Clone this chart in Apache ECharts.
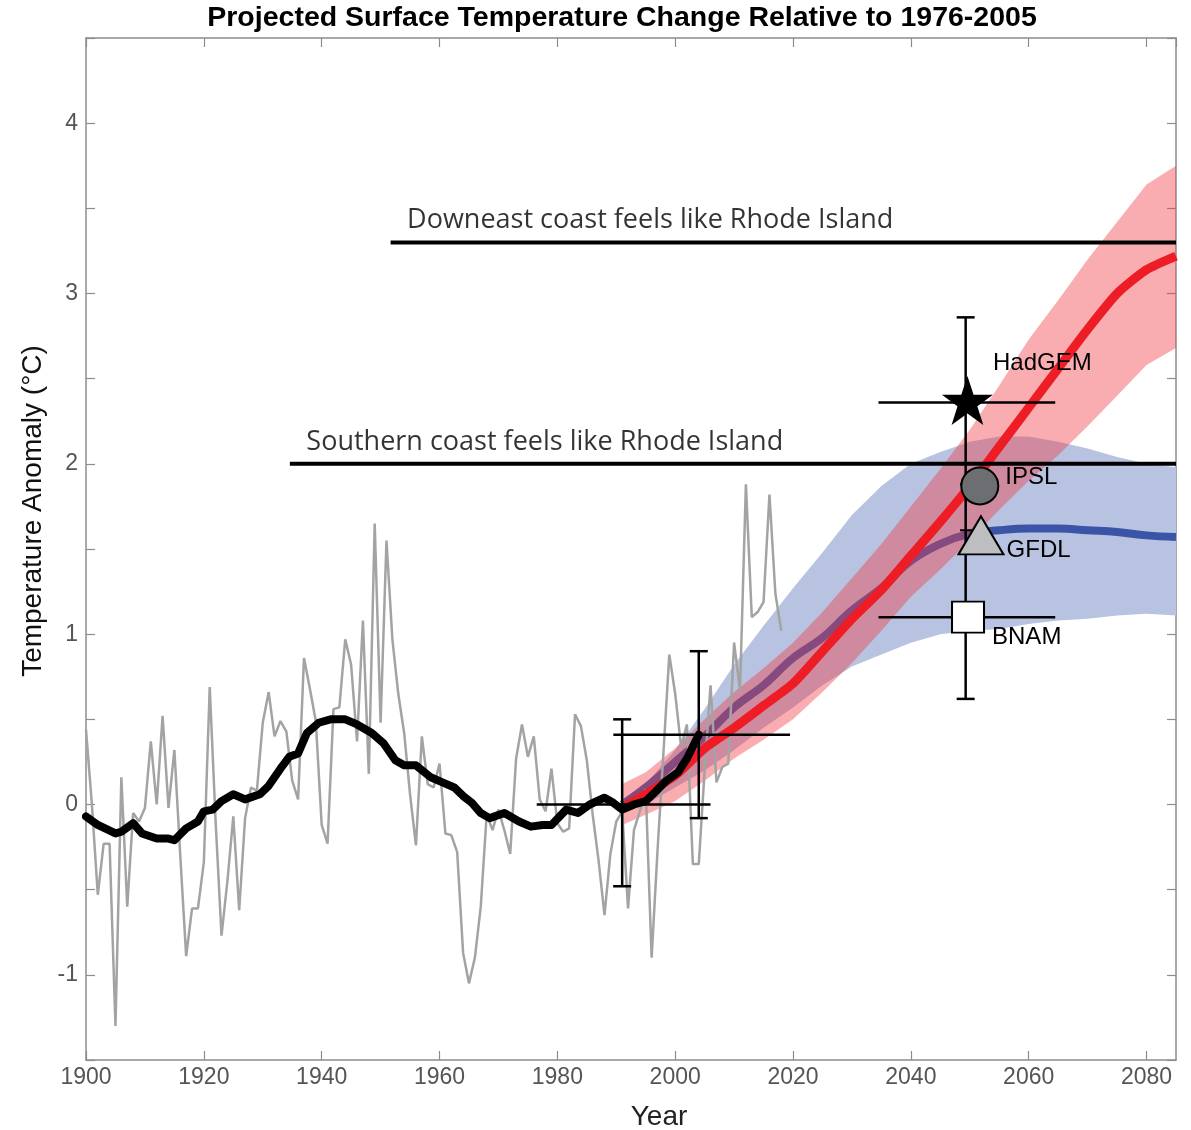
<!DOCTYPE html>
<html>
<head>
<meta charset="utf-8">
<title>Projected Surface Temperature Change Relative to 1976-2005</title>
<script src="https://cdn.jsdelivr.net/npm/echarts@6/dist/echarts.min.js"></script>
<style>
  html, body { margin: 0; padding: 0; background: #fff; }
  #chart { width: 1191px; height: 1130px; }
</style>
</head>
<body>
<div id="chart"></div>
<script>
// observed annual anomaly (gray), one value per year from 1900
const obsStart = 1900
const obsValues = [
  0.44, 0.0, -0.53, -0.23, -0.23, -1.30, 0.16, -0.60, -0.05, -0.10,
  -0.02, 0.37, 0.0, 0.52, -0.02, 0.32, -0.30, -0.89, -0.61, -0.61,
  -0.34, 0.69, -0.10, -0.77, -0.45, -0.07, -0.62, -0.08, 0.10, 0.08,
  0.48, 0.66, 0.40, 0.49, 0.43, 0.14, 0.03, 0.86, 0.68, 0.49,
  -0.12, -0.23, 0.56, 0.57, 0.97, 0.82, 0.37, 1.08, 0.18, 1.65,
  0.48, 1.55, 0.97, 0.65, 0.42, 0.06, -0.24, 0.40, 0.12, 0.10,
  0.24, -0.17, -0.18, -0.28, -0.87, -1.05, -0.90, -0.60, -0.06, -0.15,
  -0.03, -0.15, -0.29, 0.27, 0.47, 0.28, 0.40, 0.03, -0.04, 0.21,
  -0.11, -0.16, -0.14, 0.53, 0.46, 0.26, -0.06, -0.33, -0.65, -0.29,
  -0.10, -0.04, -0.61, -0.15, -0.04, 0.09, -0.90, -0.27, 0.30, 0.88,
  0.65, 0.34, 0.47, -0.35, -0.35, 0.20, 0.70, 0.13, 0.22, 0.24,
  0.95, 0.67, 1.88, 1.10, 1.13, 1.19, 1.82, 1.24, 1.02
]

// smoothed observations (black)
const smoothYears = [1900, 1902, 1905, 1906, 1908, 1909.5, 1912, 1914, 1915, 1917, 1919, 1920, 1921.5, 1923, 1925,
  1927, 1929.5, 1931, 1933, 1934.5, 1936, 1937.5, 1939.5, 1941.5, 1944, 1946, 1948.5, 1950.5, 1952.5, 1954,
  1956, 1958.5, 1960.5, 1962.5, 1964, 1965.5, 1967, 1968.5, 1971, 1973.5, 1975.5, 1977.5, 1979, 1981.5, 1983.5,
  1985.5, 1988, 1989.5, 1991, 1993, 1995, 1996.5, 1998.5, 2000.5, 2002, 2004]
const smoothValues = [-0.07, -0.12, -0.17, -0.16, -0.11, -0.17, -0.20, -0.20, -0.21, -0.14, -0.10, -0.04, -0.03, 0.02, 0.06,
  0.03, 0.06, 0.11, 0.21, 0.28, 0.30, 0.42, 0.48, 0.50, 0.50, 0.47, 0.42, 0.36, 0.26, 0.23,
  0.23, 0.16, 0.13, 0.10, 0.05, 0.01, -0.05, -0.08, -0.05, -0.10, -0.13, -0.12, -0.12, -0.03, -0.05,
  0.00, 0.04, 0.01, -0.03, 0.00, 0.02, 0.07, 0.14, 0.19, 0.27, 0.41]

// projections
const projYears = [1991, 1995, 2000, 2005, 2010, 2015, 2020, 2025, 2030, 2035, 2040, 2045, 2050, 2055, 2060, 2065, 2070, 2075, 2080, 2085]
const redMean = [-0.02, 0.06, 0.17, 0.33, 0.45, 0.58, 0.71, 0.90, 1.09, 1.26, 1.46, 1.66, 1.87, 2.10, 2.33, 2.56, 2.79, 3.00, 3.14, 3.22]
const redLow  = [-0.12, -0.06, 0.02, 0.14, 0.27, 0.38, 0.50, 0.66, 0.83, 1.02, 1.22, 1.38, 1.55, 1.73, 1.90, 2.05, 2.22, 2.40, 2.58, 2.68]
const redHigh = [0.12, 0.19, 0.33, 0.50, 0.66, 0.80, 0.95, 1.13, 1.33, 1.53, 1.75, 1.97, 2.20, 2.46, 2.73, 2.96, 3.20, 3.42, 3.64, 3.75]
const blueMean = [0.0, 0.10, 0.25, 0.40, 0.57, 0.70, 0.86, 0.98, 1.14, 1.27, 1.43, 1.53, 1.59, 1.61, 1.62, 1.62, 1.61, 1.60, 1.58, 1.57]
const blueLow  = [-0.05, 0.0, 0.10, 0.20, 0.32, 0.45, 0.57, 0.70, 0.81, 0.88, 0.95, 1.00, 1.02, 1.03, 1.06, 1.08, 1.09, 1.11, 1.12, 1.11]
const blueHigh = [0.02, 0.12, 0.32, 0.56, 0.82, 1.05, 1.27, 1.48, 1.70, 1.87, 2.00, 2.07, 2.13, 2.16, 2.16, 2.13, 2.09, 2.04, 2.00, 1.98]

// "feels like Rhode Island" thresholds
const refLabels = ['Downeast coast feels like Rhode Island', 'Southern coast feels like Rhode Island']
const refLevels = [3.3, 2.0]
const refStarts = [1951.7, 1934.6]

// error bars
const vBarX = [1991, 2004, 2049.3]
const vBarLow = [-0.48, -0.08, 0.62]
const vBarHigh = [0.50, 0.90, 2.86]
const hBarY = [0.0, 0.41, 2.36, 1.10]
const hBarLow = [1976.5, 1989.5, 2034.5, 2034.5]
const hBarHigh = [2006, 2019.5, 2064.5, 2064.5]
const smallCapY = [1.88, 1.61]
const smallCapX = 2049.7

// model markers
const modelNames = ['HadGEM', 'IPSL', 'GFDL', 'BNAM']
const modelYears = [2049.6, 2051.7, 2051.9, 2049.7]
const modelValues = [2.37, 1.87, 1.58, 1.10]

const X_MIN = 1900
const X_MAX = 2085
const axisGray = '#8c8c8c'

const pairs = (xs, ys) => xs.map((x, i) => [x, ys[i]])
const obsData = obsValues.map((v, i) => [obsStart + i, v])

const starPath = 'path://M50,0 L61.8,35.4 L99,35.4 L68.9,57.3 L80.4,92.7 L50,70.8 L19.6,92.7 L31.1,57.3 L1,35.4 L38.2,35.4 Z'

const modelStyles = [
  { symbol: starPath, symbolSize: [45, 43], color: '#000', dist: 2, off: [0, -37] },
  { symbol: 'circle', symbolSize: 37, color: '#6d6e71', dist: 6, off: [0, -9] },
  { symbol: 'triangle', symbolSize: [45, 38], color: '#bcbec0', dist: 2, off: [0, 15] },
  { symbol: 'rect', symbolSize: [32, 31], color: '#fff', dist: 7, off: [0, 20] }
]

const bandSeries = (name, low, high, fill, z) => ({
  type: 'custom',
  name: name,
  z: z,
  silent: true,
  clip: true,
  data: [[projYears[0], low[0]]],
  renderItem: (params, api) => {
    const pts = projYears.map((yr, i) => api.coord([yr, high[i]]))
    for (let i = projYears.length - 1; i >= 0; i--) {
      pts.push(api.coord([projYears[i], low[i]]))
    }
    return { type: 'polygon', shape: { points: pts }, style: { fill: fill } }
  }
})

const chart = echarts.init(document.getElementById('chart'))

const valueAxisBase = {
  type: 'value',
  axisLine: { show: true, onZero: false, lineStyle: { color: axisGray, width: 1.5 } },
  axisTick: { show: true, inside: true, length: 9, lineStyle: { color: axisGray, width: 1.2 } },
  splitLine: { show: false }
}

chart.setOption({
  animation: false,
  backgroundColor: '#fff',
  grid: { left: 86, right: 15, top: 38, bottom: 70, containLabel: false, outerBoundsMode: 'none' },
  graphic: [
    {
      type: 'text',
      x: 622,
      y: 18,
      style: {
        text: 'Projected Surface Temperature Change Relative to 1976-2005',
        font: 'bold 28.5px "Liberation Sans", Arial, sans-serif',
        fill: '#000',
        textAlign: 'center',
        textVerticalAlign: 'middle'
      }
    },
    {
      type: 'text',
      x: 33,
      y: 511,
      rotation: Math.PI / 2,
      style: {
        text: 'Temperature Anomaly (°C)',
        font: '28px "Liberation Sans", Arial, sans-serif',
        fill: '#111',
        textAlign: 'center',
        textVerticalAlign: 'middle'
      }
    },
    {
      type: 'text',
      x: 659,
      y: 1117,
      style: {
        text: 'Year',
        font: '28px "Liberation Sans", Arial, sans-serif',
        fill: '#222',
        textAlign: 'center',
        textVerticalAlign: 'middle'
      }
    }
  ],
  xAxis: [
    Object.assign({}, valueAxisBase, {
      position: 'bottom',
      min: X_MIN,
      max: X_MAX,
      interval: 20,
      axisLabel: {
        color: '#555',
        fontSize: 23,
        fontFamily: 'Liberation Sans',
        margin: 6,
        showMaxLabel: false,
        formatter: v => (v % 20 === 0 ? String(v) : '')
      }
    }),
    Object.assign({}, valueAxisBase, {
      position: 'top',
      min: X_MIN,
      max: X_MAX,
      interval: 20,
      axisLabel: { show: false }
    })
  ],
  yAxis: [
    Object.assign({}, valueAxisBase, {
      position: 'left',
      min: -1.5,
      max: 4.5,
      interval: 0.5,
      axisLabel: {
        color: '#555',
        fontSize: 23,
        fontFamily: 'Liberation Sans',
        margin: 8,
        formatter: v => (Math.abs(v - Math.round(v)) < 1e-6 ? String(Math.round(v)) : '')
      }
    }),
    Object.assign({}, valueAxisBase, {
      position: 'right',
      min: -1.5,
      max: 4.5,
      interval: 0.5,
      axisLabel: { show: false }
    })
  ],
  series: [
    bandSeries('blue range', blueLow, blueHigh, '#b7c3e1', 1),
    {
      type: 'line',
      name: 'blue mean',
      z: 2,
      data: pairs(projYears, blueMean),
      smooth: 0.4,
      showSymbol: false,
      lineStyle: { color: '#3a55a8', width: 8 }
    },
    bandSeries('red range', redLow, redHigh, 'rgba(240,60,70,0.42)', 3),
    {
      type: 'line',
      name: 'observed',
      z: 4,
      data: obsData,
      showSymbol: false,
      lineStyle: { color: '#a3a3a3', width: 2.5 }
    },
    {
      type: 'line',
      name: 'red mean',
      z: 5,
      data: pairs(projYears, redMean),
      smooth: 0.2,
      showSymbol: false,
      lineStyle: { color: '#ee1c25', width: 9 }
    },
    {
      type: 'line',
      name: 'smoothed',
      z: 6,
      data: pairs(smoothYears, smoothValues),
      showSymbol: false,
      lineStyle: { color: '#000', width: 8, join: 'round', cap: 'round' }
    },
    // threshold lines
    ...refLevels.map((lv, i) => ({
      type: 'line',
      name: refLabels[i],
      z: 7,
      data: [[refStarts[i], lv], [X_MAX, lv]],
      showSymbol: false,
      lineStyle: { color: '#000', width: 4 }
    })),
    {
      type: 'scatter',
      name: 'threshold labels',
      z: 7,
      symbolSize: 1,
      itemStyle: { color: 'transparent' },
      data: refLevels.map((lv, i) => ({ value: [refStarts[i], lv], name: refLabels[i] })),
      label: {
        show: true,
        position: 'right',
        distance: 0,
        offset: [16, -22],
        formatter: p => p.name,
        color: '#000',
        fontSize: 27,
        fontFamily: 'Open Sans'
      }
    },
    // vertical error bars
    {
      type: 'custom',
      name: 'vertical bars',
      z: 8,
      data: vBarX.map((x, i) => [x, vBarLow[i], vBarHigh[i]]),
      encode: { x: 0, y: [1, 2] },
      renderItem: (params, api) => {
        const top = api.coord([api.value(0), api.value(2)])
        const bot = api.coord([api.value(0), api.value(1)])
        const half = 9
        const st = { stroke: '#000', lineWidth: 2.5 }
        return {
          type: 'group',
          children: [
            { type: 'line', shape: { x1: top[0], y1: top[1], x2: bot[0], y2: bot[1] }, style: st },
            { type: 'line', shape: { x1: top[0] - half, y1: top[1], x2: top[0] + half, y2: top[1] }, style: st },
            { type: 'line', shape: { x1: bot[0] - half, y1: bot[1], x2: bot[0] + half, y2: bot[1] }, style: st }
          ]
        }
      }
    },
    // horizontal error bars
    {
      type: 'custom',
      name: 'horizontal bars',
      z: 8,
      data: hBarY.map((y, i) => [hBarLow[i], hBarHigh[i], y]),
      encode: { x: [0, 1], y: 2 },
      renderItem: (params, api) => {
        const a = api.coord([api.value(0), api.value(2)])
        const b = api.coord([api.value(1), api.value(2)])
        return {
          type: 'line',
          shape: { x1: a[0], y1: a[1], x2: b[0], y2: b[1] },
          style: { stroke: '#000', lineWidth: 2.5 }
        }
      }
    },
    // small caps near the model markers
    {
      type: 'custom',
      name: 'small caps',
      z: 8,
      data: smallCapY.map(y => [smallCapX, y]),
      encode: { x: 0, y: 1 },
      renderItem: (params, api) => {
        const c = api.coord([api.value(0), api.value(1)])
        return {
          type: 'line',
          shape: { x1: c[0] - 8, y1: c[1], x2: c[0] + 8, y2: c[1] },
          style: { stroke: '#000', lineWidth: 2 }
        }
      }
    },
    // model markers + names
    {
      type: 'scatter',
      name: 'models',
      z: 9,
      data: modelNames.map((n, i) => ({
        name: n,
        value: [modelYears[i], modelValues[i]],
        symbol: modelStyles[i].symbol,
        symbolSize: modelStyles[i].symbolSize,
        itemStyle: { color: modelStyles[i].color, borderColor: '#000', borderWidth: 2, opacity: 1 },
        label: { distance: modelStyles[i].dist, offset: modelStyles[i].off }
      })),
      itemStyle: { opacity: 1 },
      label: {
        show: true,
        position: 'right',
        formatter: p => p.name,
        color: '#000',
        fontSize: 24,
        fontFamily: 'Liberation Sans'
      }
    }
  ]
})
</script>
</body>
</html>
